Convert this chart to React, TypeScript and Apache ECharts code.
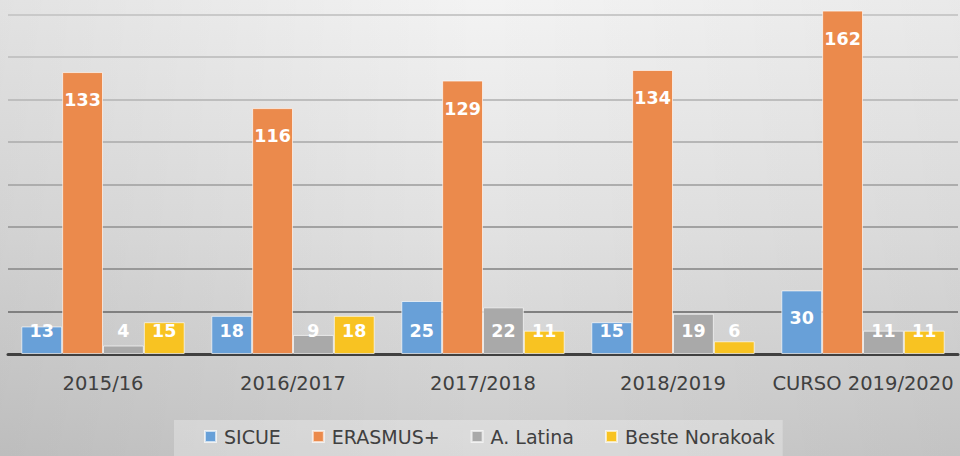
import React, { useEffect, useRef } from "react";
import * as echarts from "echarts";

const categories = ["2015/16", "2016/2017", "2017/2018", "2018/2019", "CURSO 2019/2020"];
const seriesNames = ["SICUE", "ERASMUS+", "A. Latina", "Beste Norakoak"];
const sicue = [13, 18, 25, 15, 30];
const erasmus = [133, 116, 129, 134, 162];
const latina = [4, 9, 22, 19, 11];
const beste = [15, 18, 11, 6, 11];
const colors = ["#68a0d8", "#eb8a4c", "#a9a9a9", "#f8c322"];
const gridColors = ["#7a7a7a", "#808080", "#989898", "#a2a2a2", "#adadad", "#b6b6b6", "#bebebe", "#c4c4c4", "#c9c9c9", "rgba(0,0,0,0)"];

const FONT = "DejaVu Sans";

export default function App() {
  const ref = useRef<HTMLDivElement>(null);
  useEffect(() => {
    if (!ref.current) return;
    const chart = echarts.init(ref.current, null, { renderer: "svg" });
    const allData = [sicue, erasmus, latina, beste];
    const series = allData.map((arr, i) => ({
      name: seriesNames[i],
      type: "bar",
      barGap: "0%",
      barCategoryGap: "14%",
      itemStyle: { color: colors[i], borderColor: "rgba(255,255,255,0.65)", borderWidth: 1 },
      data: arr.map((v) => ({
        value: v,
        label: v >= 30
          ? { position: "insideTop", distance: 19 }
          : { position: "insideBottom", distance: 14.5 },
      })),
      label: {
        show: true,
        color: "#ffffff",
        fontFamily: FONT,
        fontWeight: "bold",
        fontSize: 17.5,
      },
    }));
    chart.setOption({
      animation: false,
      backgroundColor: {
        type: "linear", x: 0, y: 0, x2: 0, y2: 1,
        colorStops: [
          { offset: 0, color: "#f3f3f3" },
          { offset: 0.5, color: "#e2e2e2" },
          { offset: 1, color: "#cbcbcb" },
        ],
      },
      graphic: [
        {
          type: "rect",
          z: -10,
          silent: true,
          shape: { x: 0, y: 0, width: 960, height: 456 },
          style: {
            fill: {
              type: "linear", x: 0, y: 0, x2: 1, y2: 0,
              colorStops: [
                { offset: 0, color: "rgba(0,0,0,0.07)" },
                { offset: 0.5, color: "rgba(0,0,0,0)" },
                { offset: 1, color: "rgba(0,0,0,0.04)" },
              ],
            },
          },
        },
      ],
      grid: { left: 8, right: 2, top: 0, bottom: 102, containLabel: false },
      legend: {
        data: seriesNames,
        left: 174,
        top: 420,
        icon: "rect",
        itemWidth: 11,
        itemHeight: 11,
        itemGap: 31,
        padding: [7, 8, 20, 30],
        backgroundColor: "rgba(255,255,255,0.28)",
        textStyle: { fontFamily: FONT, fontSize: 19, color: "#404040", padding: [0, 0, 0, 3] },
      },
      xAxis: {
        type: "category",
        data: categories,
        axisLine: { lineStyle: { color: "#404040", width: 3 } },
        axisTick: { show: false },
        axisLabel: { fontFamily: FONT, fontSize: 19.5, color: "#404040", margin: 19, interval: 0 },
      },
      yAxis: {
        type: "value",
        min: 0,
        max: 167,
        interval: 20,
        axisLabel: { show: false },
        axisLine: { show: false },
        axisTick: { show: false },
        splitLine: { lineStyle: { color: gridColors, width: 2 } },
      },
      series,
    });
    return () => chart.dispose();
  }, []);
  return <div ref={ref} style={{ width: 960, height: 456, position: "absolute", left: 0, top: 0 }} />;
}
